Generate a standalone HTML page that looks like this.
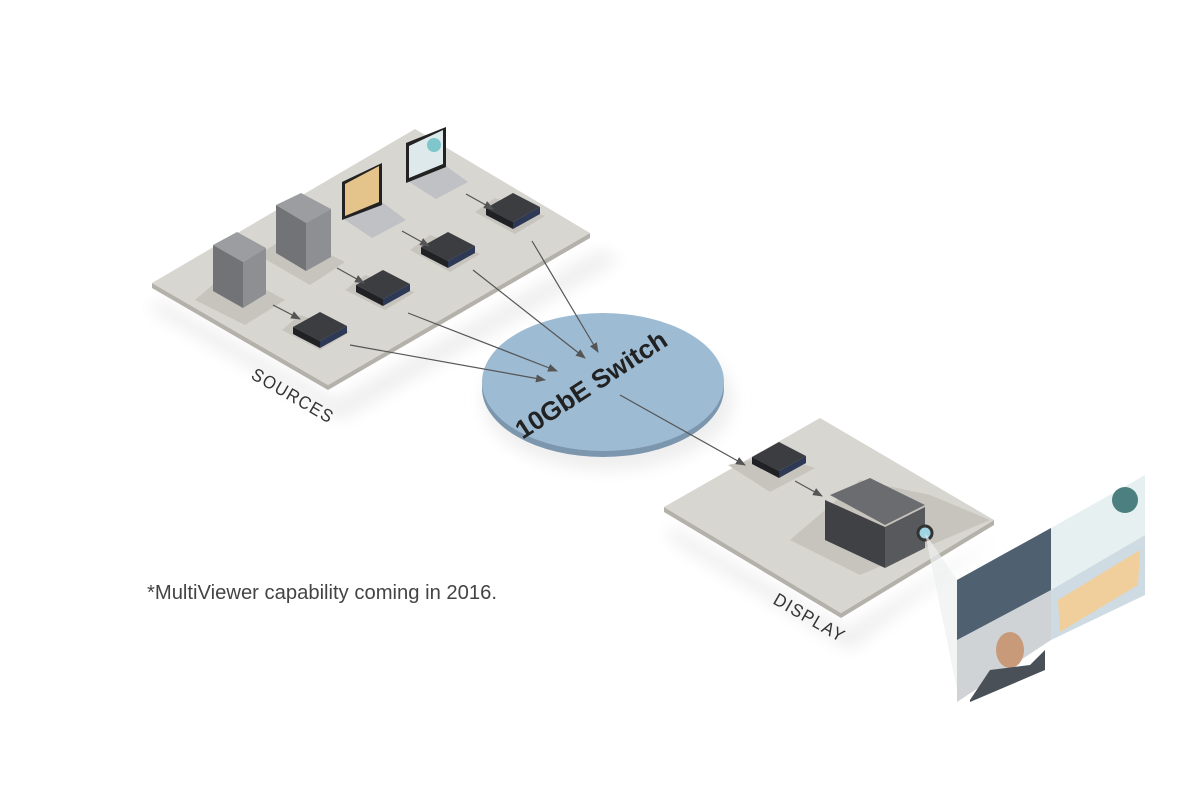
<!DOCTYPE html>
<html><head><meta charset="utf-8"><style>
html,body{margin:0;padding:0;background:#fff;}
svg{display:block;}
text{font-family:"Liberation Sans",sans-serif;}
</style></head><body>
<svg width="1200" height="800" viewBox="0 0 1200 800" xmlns="http://www.w3.org/2000/svg">
<defs>
<marker id="ar" markerWidth="10" markerHeight="8" refX="9" refY="4" orient="auto" markerUnits="userSpaceOnUse">
<path d="M0,0 L10,4 L0,8 Z" fill="#555"/></marker>
<filter id="bl" x="-20%" y="-20%" width="140%" height="140%"><feGaussianBlur stdDeviation="8"/></filter>
</defs>
<polygon points="160,300 336,400 600,250 620,260 340,420 150,310" fill="#eee" filter="url(#bl)"/>
<ellipse cx="608" cy="400" rx="125" ry="70" fill="#eee" filter="url(#bl)"/>
<polygon points="670,525 846,630 1000,535 850,650 670,540" fill="#eee" filter="url(#bl)"/>
<polygon points="152,283 152,288 328,390 590,238 590,233 328,385" fill="#b3b1aa"/>
<polygon points="152,283 415,129 590,233 328,385" fill="#d8d6d0"/>
<polygon points="664,507 664,512 841,618 994,525 994,520 841,613" fill="#b3b1aa"/>
<polygon points="664,507 820,418 994,520 841,613" fill="#d8d6d0"/>
<g fill="#c6c4bd">
<polygon points="195,300 245,325 285,300 230,270"/>
<polygon points="258,255 310,285 345,262 290,235"/>
<polygon points="282,330 320,350 350,332 300,315"/>
<polygon points="345,290 385,310 415,292 365,275"/>
<polygon points="410,250 450,272 480,254 430,235"/>
<polygon points="475,212 515,234 545,216 495,198"/>
<polygon points="728,465 770,492 815,468 775,455"/>
<polygon points="790,540 860,575 990,520 930,495 860,480"/>
</g>
<polygon points="213,245 237,232 266,248 243,262" fill="#9c9da0"/>
<polygon points="213,245 243,262 243,308 213,291" fill="#727376"/>
<polygon points="243,262 266,248 266,294 243,308" fill="#8e8f92"/>
<polygon points="276,205 301,193 331,209 306,223" fill="#9c9da0"/>
<polygon points="276,205 306,223 306,271 276,253" fill="#727376"/>
<polygon points="306,223 331,209 331,257 306,271" fill="#8e8f92"/>
<polygon points="342,218 372,238 406,220 382,202" fill="#bfc1c4"/>
<polygon points="342,182 382,163 382,205 342,220" fill="#222"/>
<polygon points="345,184 379,166 379,202 345,216" fill="#e4c48a"/>
<polygon points="406,180 436,199 468,182 446,166" fill="#bfc1c4"/>
<polygon points="406,143 446,127 446,167 406,183" fill="#222"/>
<polygon points="409,146 443,130 443,164 409,178" fill="#dde9ea"/>
<circle cx="434" cy="145" r="7" fill="#7fc6cc"/>
<g id="box">
<polygon points="293,327 320,312 347,326 320,341" fill="#3c3d40"/>
<polygon points="293,327 320,341 320,348 293,334" fill="#202124"/>
<polygon points="320,341 347,326 347,333 320,348" fill="#2e3a55"/>
</g>
<use href="#box" transform="translate(63,-42)"/>
<use href="#box" transform="translate(128,-80)"/>
<use href="#box" transform="translate(193,-119)"/>
<use href="#box" transform="translate(459,130)"/>
<ellipse cx="603" cy="388" rx="121" ry="69" fill="#7b96ad"/>
<ellipse cx="603" cy="382" rx="121" ry="69" fill="#9dbbd3"/>
<text x="0" y="0" transform="translate(596,392) rotate(-33)" text-anchor="middle" font-size="26" font-weight="bold" fill="#222" textLength="175" lengthAdjust="spacingAndGlyphs">10GbE Switch</text>
<g stroke="#555" stroke-width="1.2" fill="none" marker-end="url(#ar)">
<line x1="273" y1="305" x2="300" y2="319"/>
<line x1="337" y1="268" x2="364" y2="283"/>
<line x1="402" y1="231" x2="429" y2="246"/>
<line x1="466" y1="194" x2="493" y2="209"/>
<line x1="350" y1="345" x2="545" y2="380"/>
<line x1="408" y1="313" x2="557" y2="371"/>
<line x1="473" y1="270" x2="585" y2="358"/>
<line x1="532" y1="241" x2="598" y2="352"/>
<line x1="620" y1="395" x2="745" y2="465"/>
<line x1="795" y1="481" x2="822" y2="496"/>
</g>
<polygon points="830,495 870,478 925,505 885,525" fill="#6b6c6f"/>
<polygon points="825,500 885,527 885,568 825,540" fill="#404144"/>
<polygon points="885,527 925,507 925,548 885,568" fill="#58595c"/>
<circle cx="925" cy="533" r="7" fill="#9ed4e4" stroke="#333" stroke-width="3"/>
<polygon points="925,533 957,580 957,690" fill="#eef0ef" opacity="0.7"/>
<polygon points="957,580 1051,528 1051,640 957,702" fill="#cfd3d6"/>
<polygon points="957,580 1051,528 1051,590 957,640" fill="#4f6070"/>
<polygon points="1051,528 1145,475 1145,535 1051,590" fill="#e6f0f0"/>
<polygon points="1051,590 1145,535 1145,595 1051,640" fill="#cfdbe3"/>
<polygon points="1058,600 1140,550 1138,585 1060,632" fill="#f0cf9c"/>
<circle cx="1125" cy="500" r="13" fill="#4c7f80"/>
<ellipse cx="1010" cy="650" rx="14" ry="18" fill="#c89a7a"/>
<polygon points="970,700 990,670 1030,665 1045,650 1045,670 970,702" fill="#4a5058"/>
<text transform="translate(250,378) rotate(30)" font-size="18" letter-spacing="1.5" fill="#333" textLength="92" lengthAdjust="spacingAndGlyphs">SOURCES</text>
<text transform="translate(772,603) rotate(30)" font-size="18" letter-spacing="1.5" fill="#333" textLength="80" lengthAdjust="spacingAndGlyphs">DISPLAY</text>
<text x="147" y="599" font-size="20" fill="#444" textLength="350" lengthAdjust="spacingAndGlyphs">*MultiViewer capability coming in 2016.</text>
</svg>
</body></html>
